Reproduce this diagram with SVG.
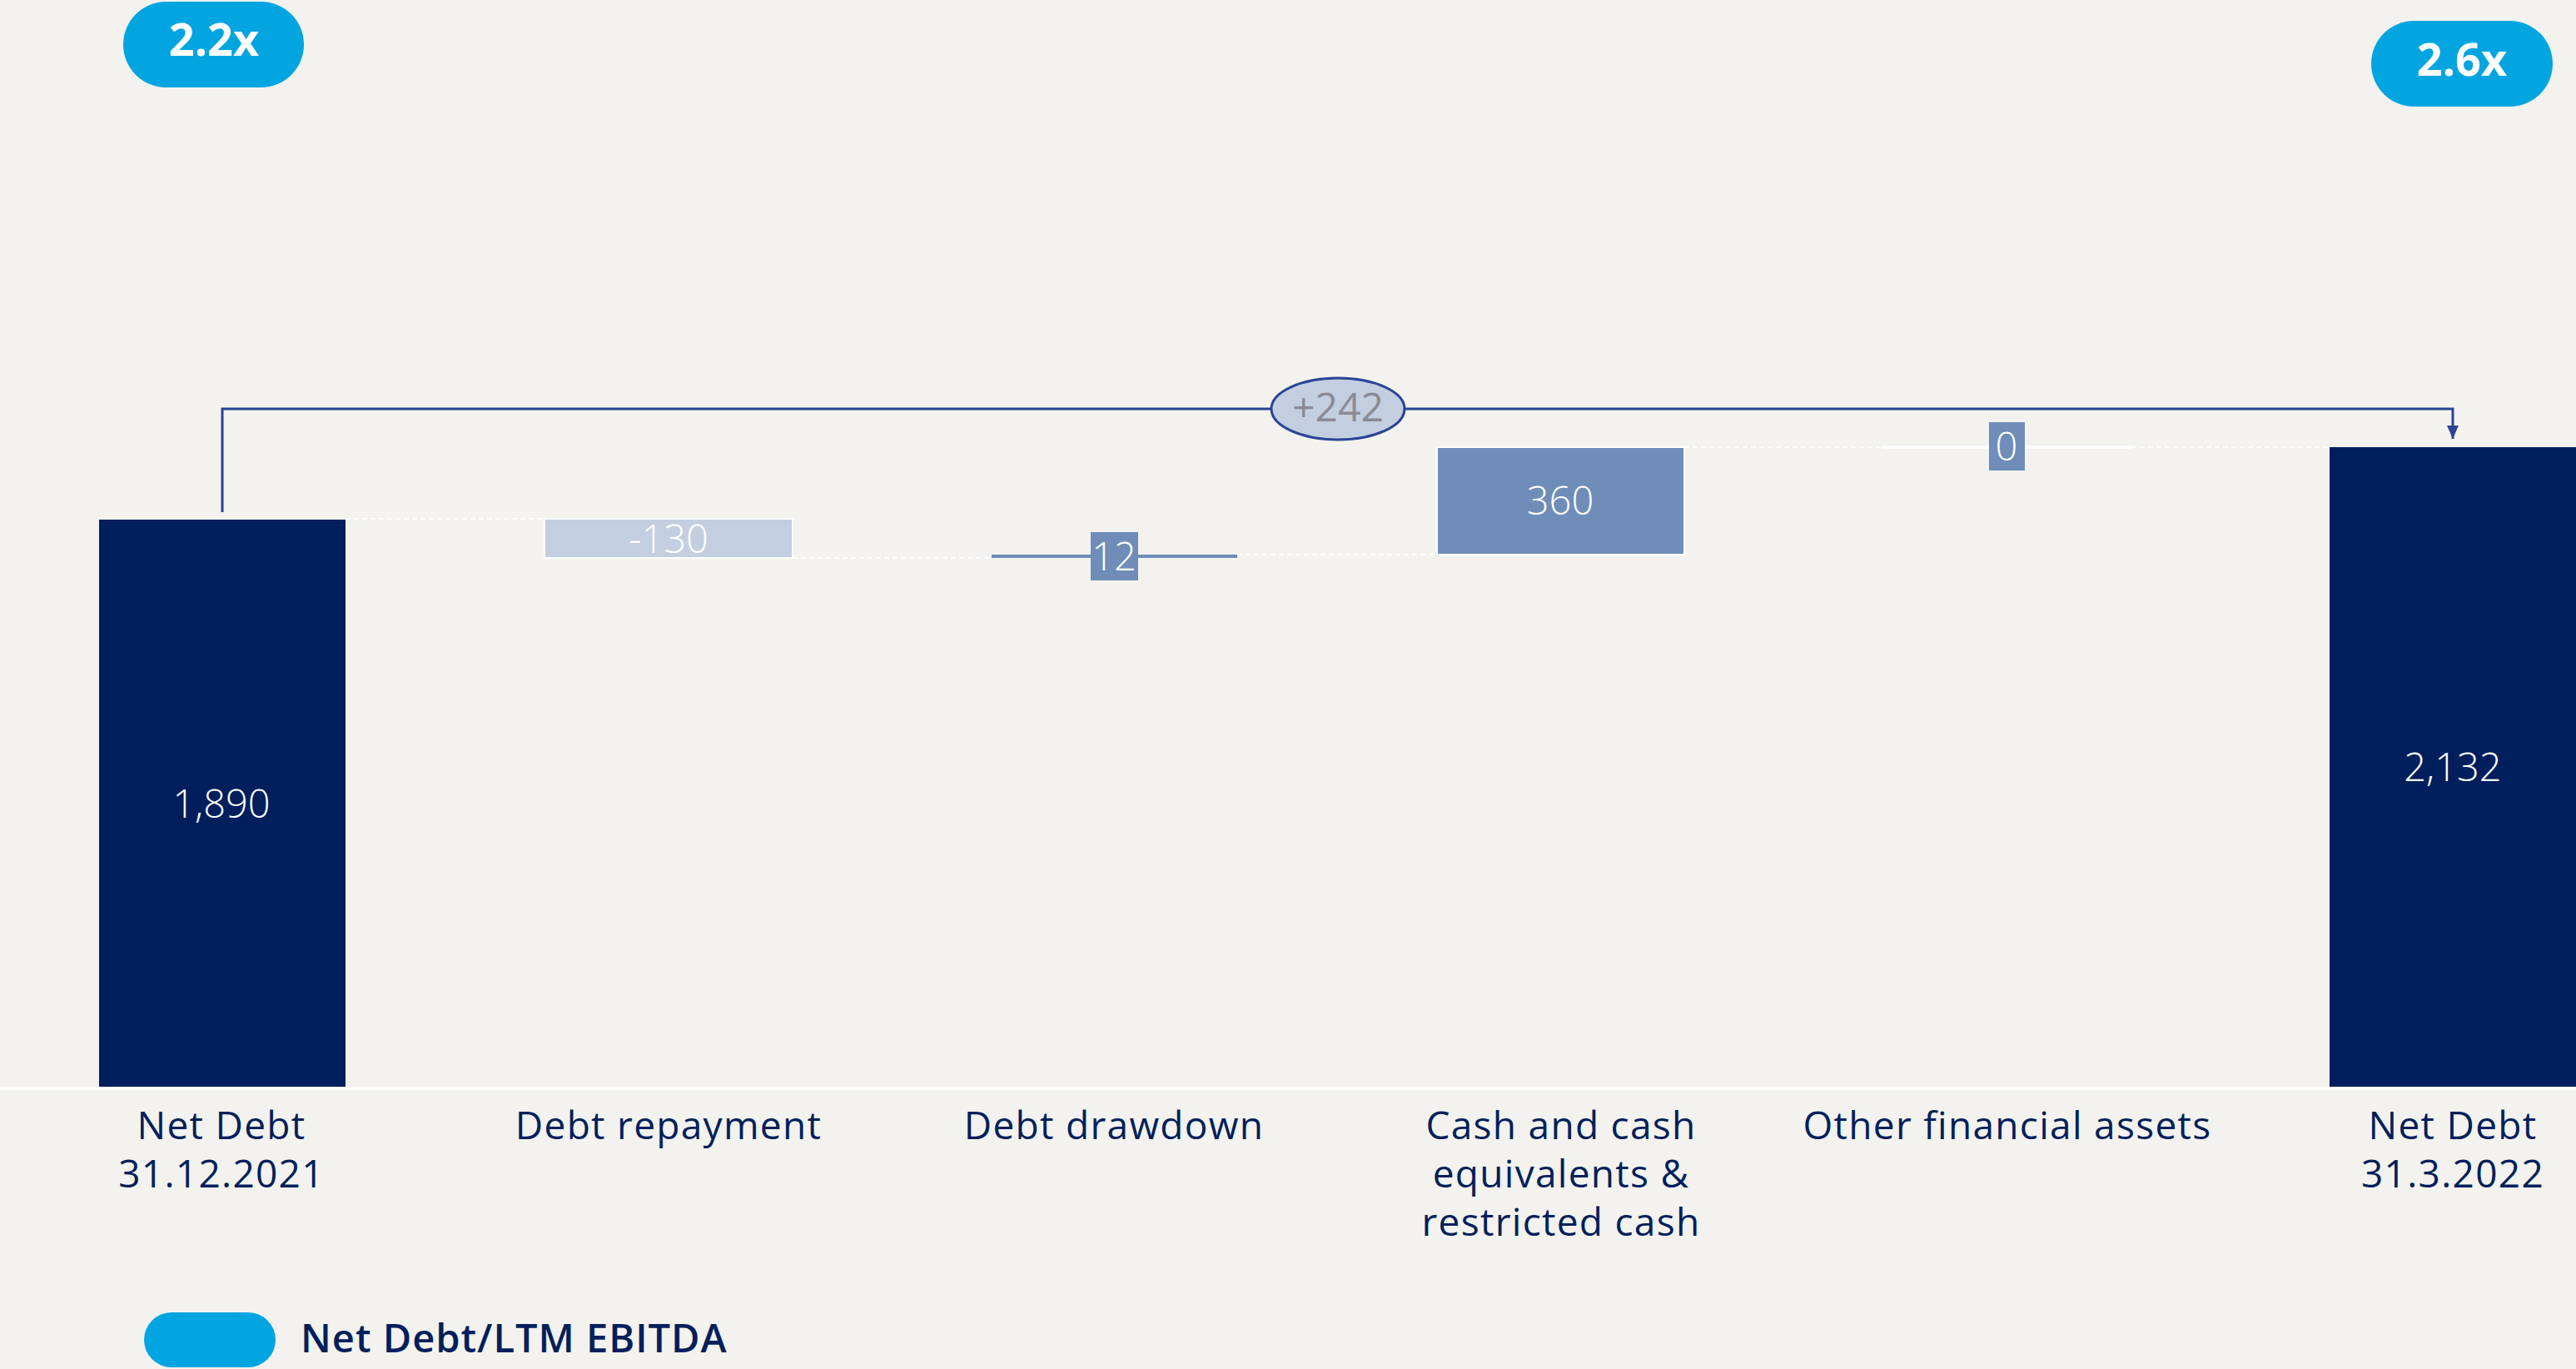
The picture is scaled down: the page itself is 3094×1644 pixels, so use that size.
<svg xmlns="http://www.w3.org/2000/svg" width="3094" height="1644" viewBox="0 0 3094 1644">
<style>
.bg{fill:#f3f2ee}
.total{fill:#001f5c}
.up{fill:#6f8db8;stroke:#ffffff;stroke-width:2}
.down{fill:#c3cfe0;stroke:#ffffff;stroke-width:2}
.dash{stroke:#ffffff;stroke-width:2;stroke-dasharray:6 4;fill:none}
.lbl{font-family:"Open Sans","Liberation Sans",sans-serif;font-size:46px;fill:#001f5c;text-anchor:middle;letter-spacing:1.3px}
.val{font-family:"Open Sans","Liberation Sans",sans-serif;font-weight:300;font-size:47px;fill:#ffffff;text-anchor:middle}
.pill{fill:#03a5e0}
.pilltxt{font-family:"Open Sans","Liberation Sans",sans-serif;font-weight:700;font-size:54px;fill:#ffffff;text-anchor:middle}
.conn{stroke:#2a4596;stroke-width:3;fill:none}
</style>
<defs>
<marker id="arr" markerWidth="16" markerHeight="14" refX="16" refY="7" orient="auto" markerUnits="userSpaceOnUse" viewBox="0 0 16 14">
<path d="M0,0 L16,7 L0,14 Z" fill="#2a4596"/>
</marker>
</defs>
<rect class="bg" x="0" y="0" width="3094" height="1644"/>

<g id="baseline">
<line x1="0" y1="1307" x2="3094" y2="1307" stroke="#ffffff" stroke-width="3"/>
</g>

<g id="gridlines">
<line class="dash" x1="415" y1="623" x2="654" y2="623"/>
<line class="dash" x1="952" y1="670" x2="1191" y2="670"/>
<line class="dash" x1="1486" y1="666" x2="1726" y2="666"/>
<line class="dash" x1="2023" y1="537" x2="2260" y2="537"/>
<line class="dash" x1="2560" y1="537" x2="2798" y2="537"/>
</g>

<g id="bar-netdebt-2021">
<rect class="total" x="119" y="624" width="296" height="681"/>
<text class="val" x="266" y="982">1,890</text>
</g>

<g id="bar-debt-repayment">
<rect class="down" x="654" y="623" width="298" height="47"/>
<text class="val" x="803" y="664">-130</text>
</g>

<g id="bar-debt-drawdown">
<rect x="1191" y="666" width="295" height="4" fill="#6f8db8"/>
<rect x="1310" y="639" width="57" height="58" fill="#6f8db8"/>
<text class="val" x="1338" y="685">12</text>
</g>

<g id="bar-cash">
<rect class="up" x="1726" y="537" width="297" height="129"/>
<text class="val" x="1874" y="618">360</text>
</g>

<g id="bar-other">
<line x1="2260" y1="537" x2="2560" y2="537" stroke="#ffffff" stroke-width="4"/>
<rect x="2389" y="507" width="43" height="58" fill="#6f8db8"/>
<text class="val" x="2410" y="553">0</text>
</g>

<g id="bar-netdebt-2022">
<rect class="total" x="2798" y="537" width="296" height="768"/>
<text class="val" x="2946" y="938">2,132</text>
</g>

<g id="connectors">
<polyline class="conn" points="267,615 267,491 2946,491 2946,527" marker-end="url(#arr)"/>
</g>

<g id="delta-label">
<ellipse cx="1607" cy="491" rx="80" ry="37" fill="#c3cfe0" stroke="#2a4596" stroke-width="3"/>
<text x="1607" y="506" font-family="'Open Sans','Liberation Sans',sans-serif" font-size="48" fill="#8a8a96" text-anchor="middle">+242</text>
</g>

<g id="axis-labels">
<text class="lbl" x="266" y="1368">Net Debt</text>
<text class="lbl" x="266" y="1426">31.12.2021</text>
<text class="lbl" x="803" y="1368">Debt repayment</text>
<text class="lbl" x="1338" y="1368">Debt drawdown</text>
<text class="lbl" x="1875" y="1368">Cash and cash</text>
<text class="lbl" x="1875" y="1426">equivalents &amp;</text>
<text class="lbl" x="1875" y="1484">restricted cash</text>
<text class="lbl" x="2411" y="1368">Other financial assets</text>
<text class="lbl" x="2946" y="1368">Net Debt</text>
<text class="lbl" x="2946" y="1426">31.3.2022</text>
</g>

<g id="pill-2021">
<rect class="pill" x="148" y="2" width="217" height="103" rx="51.5"/>
<text class="pilltxt" x="257" y="67">2.2x</text>
</g>

<g id="pill-2022">
<rect class="pill" x="2848" y="25" width="218" height="103" rx="51.5"/>
<text class="pilltxt" x="2957" y="91">2.6x</text>
</g>

<g id="legend">
<rect class="pill" x="173" y="1576" width="158" height="66" rx="33"/>
<text x="361" y="1624" font-family="'Open Sans','Liberation Sans',sans-serif" font-weight="600" font-size="47" letter-spacing="1" fill="#001f5c">Net Debt/LTM EBITDA</text>
</g>
</svg>
